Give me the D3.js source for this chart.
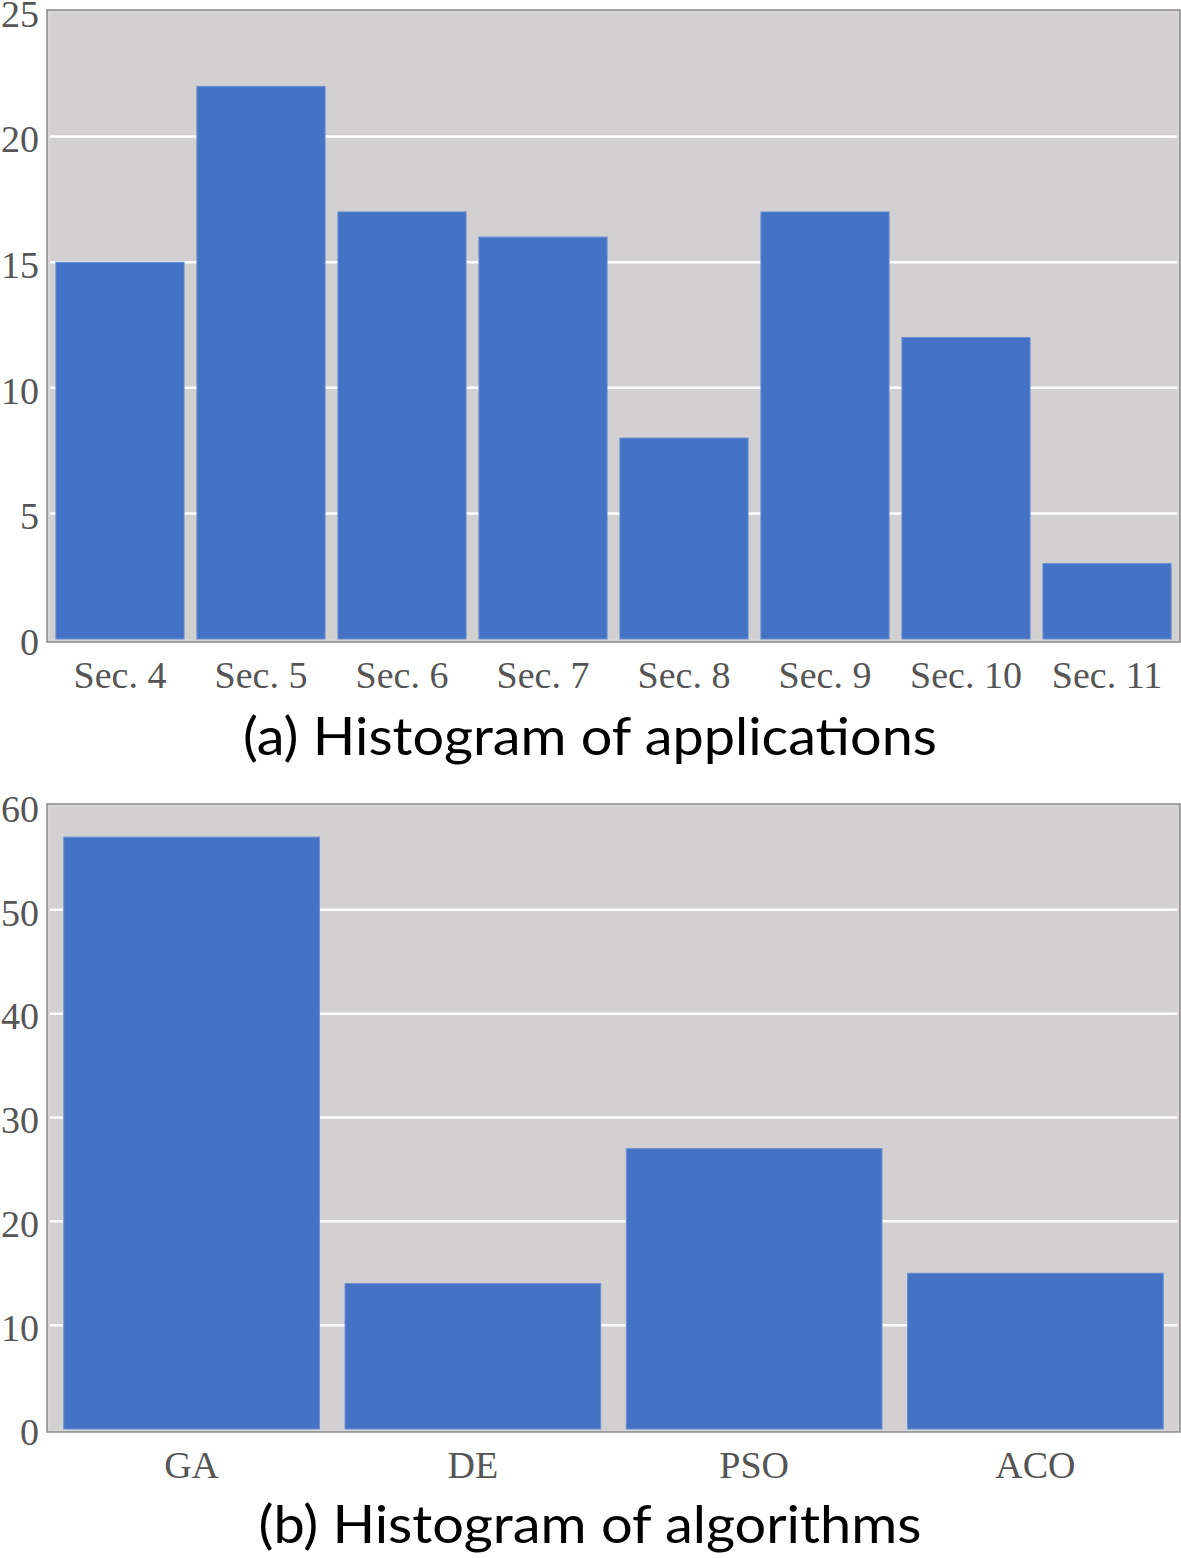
<!DOCTYPE html>
<html><head><meta charset="utf-8">
<script src="https://cdn.jsdelivr.net/npm/d3@7"></script>
<style>body{margin:0;background:#fff;}svg{display:block;}</style>
</head><body>
<svg id="c" width="1181" height="1558"></svg>
<script>
const catsA = ["Sec. 4","Sec. 5","Sec. 6","Sec. 7","Sec. 8","Sec. 9","Sec. 10","Sec. 11"];
const valsA = [15,22,17,16,8,17,12,3];
const ticksA = [0,5,10,15,20,25];
const titleA = "(a) Histogram of applications";

const catsB = ["GA","DE","PSO","ACO"];
const valsB = [57,14,27,15];
const ticksB = [0,10,20,30,40,50,60];
const titleB = "(b) Histogram of algorithms";

const svg = d3.select("#c");
const BAR = "#4472c4", BG = "#d3d0d1";

function panel(cats, vals, ticks, ymax, title, box) {
  const g = svg.append("g");
  const x = d3.scaleBand().domain(cats).range([box.x0, box.x1]).paddingInner(0.091).paddingOuter(0.056);
  const y = d3.scaleLinear().domain([0, ymax]).range([box.y0, box.y1]);
  g.append("rect").attr("x", box.x0 - 1).attr("y", box.top).attr("width", box.x1 - box.x0 + 2)
    .attr("height", box.bottom - box.top).attr("fill", BG).attr("stroke", "#8a8a8a").attr("stroke-width", 1.5);
  g.append("rect").attr("x", box.x0 + 1).attr("y", box.top + 2).attr("width", box.x1 - box.x0 - 2)
    .attr("height", box.bottom - box.top - 4).attr("fill", "none").attr("stroke", "#dcdada").attr("stroke-width", 1);
  // gridlines
  g.selectAll(".grid").data(ticks.filter(t => t > 0 && t < ymax)).enter().append("line")
    .attr("x1", box.x0 + 2).attr("x2", box.x1 - 2)
    .attr("y1", d => y(d)).attr("y2", d => y(d))
    .attr("stroke", "#ffffff").attr("stroke-width", 2.5);
  // bars
  g.selectAll(".bar").data(cats).enter().append("rect")
    .attr("x", d => x(d)).attr("width", x.bandwidth())
    .attr("y", (d, i) => y(vals[i])).attr("height", (d, i) => y(0) - y(vals[i]))
    .attr("fill", BAR).attr("stroke", "#6a8fd4").attr("stroke-width", 1);
  // y axis labels
  const ya = d3.axisLeft(y).tickValues(ticks).tickSize(0).tickPadding(0);
  const yg = g.append("g").attr("transform", `translate(${box.labX},0)`).call(ya);
  yg.select(".domain").remove();
  yg.selectAll("text").attr("font-family", "Liberation Serif, Times New Roman, serif")
    .attr("font-size", 38).attr("fill", "#555").attr("dy", "0.4em");
  // x axis labels
  const xa = d3.axisBottom(x).tickSize(0).tickPadding(0);
  const xg = g.append("g").attr("transform", `translate(0,${box.bottom + box.xlabOff})`).call(xa);
  xg.select(".domain").remove();
  xg.selectAll("text").attr("font-family", "Liberation Serif, Times New Roman, serif")
    .attr("font-size", 38).attr("fill", "#555").attr("dy", 0);
  // title
  g.append("text").attr("x", box.titleX).attr("y", box.titleY).attr("text-anchor", "middle")
    .attr("font-family", "Lato, DejaVu Sans, sans-serif").attr("font-size", 52).attr("fill", "#000")
    .attr("textLength", box.titleW).attr("lengthAdjust", "spacingAndGlyphs")
    .text(title);
}

panel(catsA, valsA, ticksA, 25, titleA,
  {x0: 48, x1: 1179, y0: 639, y1: 11, top: 10, bottom: 642, labX: 39, xlabOff: 46, titleX: 590, titleY: 755, titleW: 694});
panel(catsB, valsB, ticksB, 60, titleB,
  {x0: 48, x1: 1179, y0: 1429, y1: 806, top: 804, bottom: 1432, labX: 39, xlabOff: 46, titleX: 590, titleY: 1543, titleW: 663});
</script>
</body></html>
